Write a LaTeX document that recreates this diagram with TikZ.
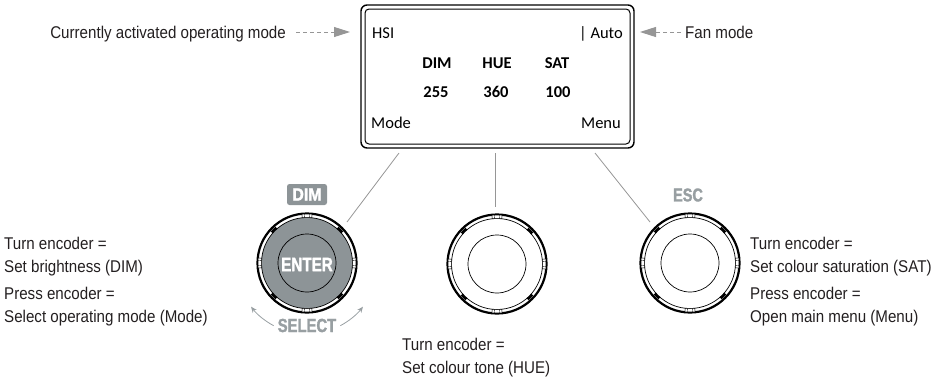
\documentclass[tikz,border=0pt]{standalone}
\usepackage{fontspec}
\setmainfont{Liberation Sans}
\newfontfamily\condfont[FakeStretch=0.89]{Liberation Sans}
\newfontfamily\lcdfont{Carlito}
\newfontfamily\knobAfont[FakeStretch=0.9,FakeBold=1.6]{Liberation Sans Bold}
\newfontfamily\knobBfont[FakeStretch=0.78,FakeBold=1.6]{Liberation Sans Bold}
\usetikzlibrary{arrows.meta,calc}
\definecolor{txt}{RGB}{35,31,32}
\definecolor{knobgray}{RGB}{141,148,151}
\definecolor{lblgray}{RGB}{152,159,162}
\definecolor{linegray}{RGB}{150,150,150}
\tikzset{
  lcd/.style={inner sep=0pt, font=\lcdfont\fontsize{16.5}{18}\selectfont},
  lcdb/.style={inner sep=0pt, font=\lcdfont\bfseries\fontsize{16.5}{18}\selectfont},
  note/.style={inner sep=0pt, align=left, text=txt, font=\condfont\fontsize{17}{22.5}\selectfont},
  conn/.style={draw=linegray, line width=0.8pt},
  pointer/.style={draw=linegray, line width=0.9pt, dash pattern=on 4pt off 3pt,
    -{Triangle[length=16pt,width=10pt,fill=linegray]}},
  knobnode/.style={circle, minimum size=100pt, inner sep=0pt},
  lblgrayfont/.style={inner sep=0pt, text=lblgray, font=\knobBfont\fontsize{18.6}{20}\selectfont},
  selarrow/.style={draw=lblgray, line width=0.8pt, -{Stealth[length=6pt,width=5pt]}},
  pics/knob/.style={code={
    \draw[line width=2.2pt] (0,0) circle[radius=49.5pt];
    \draw[line width=0.7pt] (0,0) circle[radius=45.5pt];
    \foreach \a in {0,90,180,270}{
      \draw[line width=0.5pt, fill=white] (\a-6:45.5pt) arc[start angle=\a-6, end angle=\a+6, radius=45.5pt]
        -- (\a+6:49pt) arc[start angle=\a+6, end angle=\a-6, radius=49pt] -- cycle;
      \draw[line width=0.4pt] (\a-3:45.5pt) -- (\a-3:49pt) (\a+3:45.5pt) -- (\a+3:49pt);
    }
    \foreach \a in {45,135,225,315}{
      \fill (\a-4:45.5pt) arc[start angle=\a-4, end angle=\a+4, radius=45.5pt]
        -- (\a+4:48pt) arc[start angle=\a+4, end angle=\a-4, radius=48pt] -- cycle;
    }
    \draw[line width=0.7pt] (0,0) circle[radius=29pt];
  }}
}
\begin{document}
\begin{tikzpicture}[x=1pt,y=-1pt]
\useasboundingbox (0,0) rectangle (938,378);

% display
\draw[line width=1.4pt, rounded corners=6pt] (361,5) rectangle (634,148);
\node[draw, line width=1pt, rounded corners=4pt, minimum width=265pt, minimum height=135pt, inner sep=0pt] (disp) at (497.5,76.5) {};
\node[lcd, anchor=base west] (hsi) at (372,38) {HSI};
\node[lcd, anchor=base east] (auto) at (623,38) {| Auto};
\node[lcdb, anchor=base] (hdim) at (437,68.5) {DIM};
\node[lcdb, anchor=base] (hhue) at (497,68.5) {HUE};
\node[lcdb, anchor=base] (hsat) at (557,68.5) {SAT};
\node[lcdb, anchor=base] (vdim) at (436,97) {255};
\node[lcdb, anchor=base] (vhue) at (496,97) {360};
\node[lcdb, anchor=base] (vsat) at (558,97) {100};
\node[lcd, anchor=base west] (mode) at (371,128) {Mode};
\node[lcd, anchor=base east] (menu) at (621,128) {Menu};

% top pointers
\node[note, anchor=base east] (cur) at (286,38.5) {Currently activated operating mode};
\node[note, anchor=base west] (fan) at (685,38.5) {Fan mode};
\coordinate (p1a) at (296,32); \coordinate (p1b) at (350,32);
\coordinate (p2a) at (681,32); \coordinate (p2b) at (640,32);
\draw[pointer] (p1a) -- (p1b);
\draw[pointer] (p2a) -- (p2b);

% knobs
\node[knobnode] (k1) at (307,263) {};
\node[knobnode] (k2) at (497,264) {};
\node[knobnode] (k3) at (690,263) {};
\fill[knobgray] (k1) circle[radius=45.5pt];
\pic at (k1) {knob};
\pic at (k2) {knob};
\pic at (k3) {knob};
\node[inner sep=0pt, text=white, font=\knobBfont\fontsize{19.5}{20}\selectfont] (enter) at (307,264.5) {ENTER};

% knob labels
\node[fill=knobgray, rounded corners=2.5pt, minimum width=40pt, minimum height=21pt, inner sep=0pt,
      text=white, font=\knobAfont\fontsize{17.7}{18}\selectfont] (dimlbl) at (307,194.5) {DIM};
\node[lblgrayfont] (esc) at (688,195) {ESC};
\node[lblgrayfont, font=\knobBfont\fontsize{19}{20}\selectfont] (sel) at (307,325.5) {SELECT};
\draw[selarrow] ($(k1)+(242:71pt)$) arc[start angle=242, end angle=218, radius=71pt];
\draw[selarrow] ($(k1)+(298:71pt)$) arc[start angle=298, end angle=322, radius=71pt];

% connectors display -> knobs
\coordinate (c1a) at (399,153); \coordinate (c1b) at (347,222);
\coordinate (c2a) at (495,153); \coordinate (c2b) at (495,207);
\coordinate (c3a) at (595,153); \coordinate (c3b) at (650,222);
\draw[conn] (c1a) -- (c1b);
\draw[conn] (c2a) -- (c2b);
\draw[conn] (c3a) -- (c3b);

% explanations (base anchor = baseline of the last line)
\node[note, anchor=base west] (t1) at (4,272) {Turn encoder =\\Set brightness (DIM)};
\node[note, anchor=base west] (t2) at (4,322) {Press encoder =\\Select operating mode (Mode)};
\node[note, anchor=base west] (t3) at (402,373) {Turn encoder =\\Set colour tone (HUE)};
\node[note, anchor=base west] (t4) at (750,272) {Turn encoder =\\Set colour saturation (SAT)};
\node[note, anchor=base west] (t5) at (750,322) {Press encoder =\\Open main menu (Menu)};
\end{tikzpicture}
\end{document}
